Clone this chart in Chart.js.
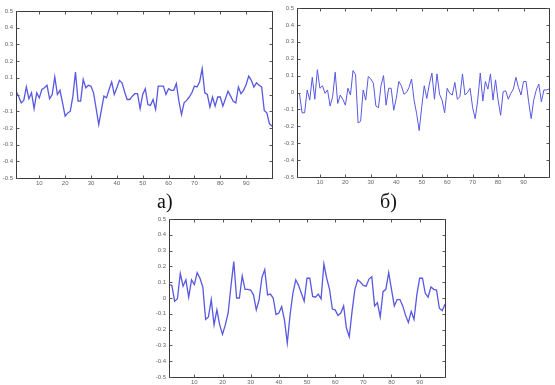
<!DOCTYPE html>
<html lang="ru">
<head>
<meta charset="UTF-8">
<title>Три реализации</title>
<script src="https://cdn.jsdelivr.net/npm/chart.js"></script>
<style>
  body { margin: 0; background: #fff; }
  #wrap { position: relative; width: 555px; height: 385px; overflow: hidden; }
  canvas { position: absolute; }
  .lbl { position: absolute; font-family: "Liberation Serif", "DejaVu Serif", serif; font-size: 20px; line-height: 1; color: #111; }
</style>
</head>
<body>
<div id="wrap">
  <canvas id="chartA" width="280" height="195" style="left:0px; top:0px;"></canvas>
  <canvas id="chartB" width="277" height="195" style="left:278px; top:0px;"></canvas>
  <canvas id="chartC" width="315" height="190" style="left:140px; top:210px;"></canvas>
  <div class="lbl" style="left:157px; top:191px;">а)</div>
  <div class="lbl" style="left:380px; top:191px;">б)</div>
</div>
<script>
// values, one per sample
const seriesA = [0.02, -0.01, -0.05, -0.035, 0.045, -0.025, 0.01, -0.085, 0.01, -0.02,
  0.03, 0.04, 0.055, -0.025, 0.0, 0.105, 0.0, 0.025, -0.05, -0.13,
  -0.11, -0.1, -0.01, 0.135, -0.04, -0.04, 0.09, 0.04, 0.055, 0.05,
  0.01, -0.085, -0.18, -0.095, -0.01, -0.02, 0.03, 0.075, 0.0, 0.04,
  0.085, 0.07, 0.015, -0.03, -0.03, -0.01, 0.005, 0.005, -0.085, 0.0,
  0.035, -0.06, -0.065, -0.03, -0.09, 0.05, 0.05, 0.05, 0.0, 0.035,
  0.025, 0.025, 0.065, -0.04, -0.12, -0.05, -0.035, -0.015, 0.01, 0.05,
  0.045, 0.075, 0.155, 0.01, 0.0, -0.075, -0.015, -0.07, -0.015, -0.015,
  -0.07, -0.025, 0.02, -0.01, -0.04, -0.05, 0.045, 0.005, 0.025, 0.06,
  0.11, 0.085, 0.045, 0.07, 0.055, 0.045, -0.095, -0.11, -0.175, -0.19];

const seriesB = [0.0, -0.01, -0.12, -0.12, 0.015, -0.045, 0.09, -0.04, 0.135, 0.025,
  0.04, -0.005, 0.015, -0.08, -0.025, 0.12, -0.065, -0.015, -0.04, -0.075,
  0.025, -0.015, 0.13, 0.105, -0.18, -0.17, 0.015, -0.045, 0.095, 0.08,
  0.055, -0.08, -0.09, 0.04, 0.1, -0.075, 0.025, 0.025, -0.105, -0.035,
  0.065, 0.04, -0.01, 0.0, 0.03, 0.08, -0.045, -0.125, -0.225, -0.085,
  0.04, -0.035, 0.05, 0.115, -0.04, 0.11, -0.01, -0.045, -0.12, 0.025,
  -0.005, -0.015, 0.06, -0.04, -0.025, 0.11, -0.015, 0.0, 0.025, -0.09,
  -0.155, -0.045, 0.115, -0.05, 0.065, 0.02, 0.11, -0.045, 0.075, -0.045,
  -0.135, 0.005, 0.01, -0.04, -0.005, 0.02, 0.09, 0.03, -0.015, 0.065,
  0.065, -0.055, -0.155, -0.045, 0.015, 0.05, -0.055, 0.015, 0.015, 0.02];

const seriesC = [0.085, 0.08, -0.02, -0.005, 0.155, 0.075, 0.115, 0.005, 0.115, 0.085,
  0.16, 0.125, 0.07, -0.135, -0.12, -0.01, -0.17, -0.075, -0.17, -0.23,
  -0.17, -0.095, 0.075, 0.23, 0.0, 0.0, 0.14, 0.055, 0.055, 0.05,
  0.02, -0.075, -0.01, 0.13, 0.18, 0.02, 0.025, 0.0, -0.105, -0.095,
  -0.055, -0.14, -0.285, -0.105, 0.03, 0.115, 0.08, 0.03, -0.02, 0.125,
  0.125, 0.01, 0.005, 0.025, -0.005, 0.215, 0.125, 0.055, -0.07, -0.075,
  -0.11, -0.095, -0.05, -0.19, -0.245, -0.085, 0.055, 0.115, 0.1, 0.08,
  0.075, 0.12, 0.135, -0.05, -0.03, -0.12, 0.04, 0.055, 0.16, 0.055,
  -0.05, -0.01, -0.01, -0.05, -0.11, -0.155, -0.085, -0.135, 0.02, 0.125,
  0.125, 0.03, 0.005, 0.07, 0.055, 0.05, -0.065, -0.08, -0.04];

const xTickValues = [10, 20, 30, 40, 50, 60, 70, 80, 90];
const yTickValues = [-0.5, -0.4, -0.3, -0.2, -0.1, 0, 0.1, 0.2, 0.3, 0.4, 0.5];

// box round the plot with inward ticks, like the original plots
const framePlugin = {
  id: 'frame',
  afterDraw(chart) {
    const { ctx, chartArea: a, scales } = chart;
    const L = Math.round(a.left) + 0.5, R = Math.round(a.right) + 0.5;
    const T = Math.round(a.top) + 0.5, B = Math.round(a.bottom) + 0.5;
    ctx.save();
    ctx.strokeStyle = '#3a3a3a';
    ctx.lineWidth = 1;
    ctx.strokeRect(L, T, R - L, B - T);
    ctx.strokeStyle = '#555';
    ctx.beginPath();
    scales.y.ticks.forEach(t => {
      const y = Math.round(scales.y.getPixelForValue(t.value)) + 0.5;
      ctx.moveTo(L, y); ctx.lineTo(L + 3, y);
      ctx.moveTo(R, y); ctx.lineTo(R - 3, y);
    });
    scales.x.ticks.forEach(t => {
      const x = Math.round(scales.x.getPixelForValue(t.value)) + 0.5;
      ctx.moveTo(x, B); ctx.lineTo(x, B - 3);
      ctx.moveTo(x, T); ctx.lineTo(x, T + 3);
    });
    ctx.stroke();
    ctx.restore();
  }
};

function makePlot(id, series, xMax, g) {
  const pts = series.map((v, i) => ({ x: i + 1, y: v }));
  const tickFont = { family: 'Liberation Sans', size: 6 };
  new Chart(document.getElementById(id), {
    type: 'line',
    data: {
      datasets: [{
        data: pts,
        borderColor: 'rgb(88, 88, 225)',
        borderWidth: g.lw,
        pointRadius: 0,
        tension: 0,
        fill: false
      }]
    },
    options: {
      responsive: false,
      animation: false,
      events: [],
      layout: { padding: { top: g.top, right: g.right, left: 0, bottom: 0 } },
      plugins: { legend: { display: false }, tooltip: { enabled: false } },
      scales: {
        x: {
          type: 'linear',
          min: 1,
          max: xMax,
          grid: { display: false, drawTicks: false },
          border: { display: false },
          afterBuildTicks: s => { s.ticks = xTickValues.map(v => ({ value: v })); },
          afterFit: s => { s.height = g.xh; },
          ticks: { font: tickFont, color: '#666', padding: 2, maxRotation: 0, autoSkip: false }
        },
        y: {
          min: -0.5,
          max: 0.5,
          grid: { display: false, drawTicks: false },
          border: { display: false },
          afterBuildTicks: s => { s.ticks = yTickValues.map(v => ({ value: v })); },
          afterFit: s => { s.width = g.yw; },
          ticks: {
            font: tickFont, color: '#666', padding: 3, autoSkip: false,
            callback: v => (Math.abs(v) < 1e-9 ? '0' : v.toFixed(1))
          }
        }
      }
    },
    plugins: [framePlugin]
  });
}

makePlot('chartA', seriesA, 100, { top: 11, right: 8, xh: 17, yw: 16, lw: 1.3 });
makePlot('chartB', seriesB, 100, { top: 8, right: 6, xh: 18, yw: 19, lw: 1 });
makePlot('chartC', seriesC, 99, { top: 9, right: 10, xh: 23, yw: 29, lw: 1.3 });
</script>
</body>
</html>
